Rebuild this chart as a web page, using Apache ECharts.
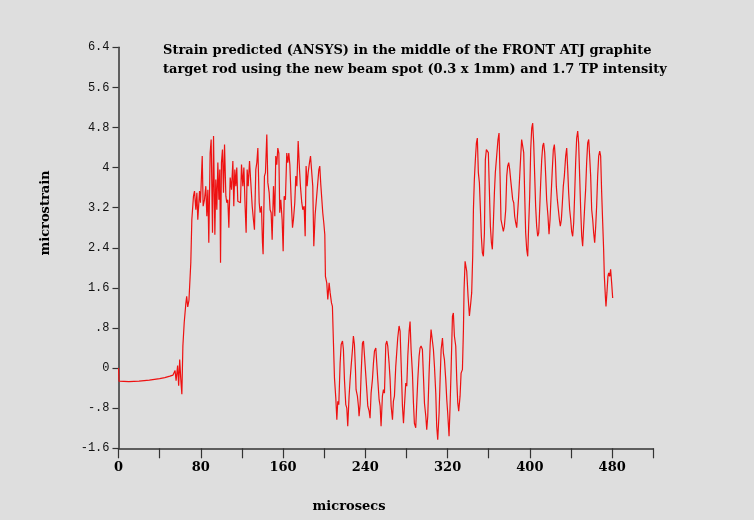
<!DOCTYPE html>
<html>
<head>
<meta charset="utf-8">
<script src="https://cdn.jsdelivr.net/npm/echarts@6/dist/echarts.min.js"></script>
<style>
html,body{margin:0;padding:0;background:#dedede;}
#chart{width:754px;height:520px;}
</style>
</head>
<body>
<div id="chart"></div>
<script>
// time (microsecs)
var times = [
0,0.5,10,20,30,40,45,50,53,55,56,57.5,58.5,59.5,60.5,61.6,62.6,63.9,65.4,66.3,67.3,68.5,70.3,71.3,
72.9,73.9,75.2,76.2,77.1,78.8,79.7,81.4,82.3,83.6,84.9,85.9,86.9,87.8,89.1,90.1,91.4,92.4,93.7,94.6,95.6,96.6,97.6,98.5,99.2,
100.1,101.1,102.1,103.1,104.4,105.3,106.3,107.3,108.6,109.9,111.2,112.1,113.1,114.1,115.0,116.0,117.3,118.6,119.6,120.9,121.9,
123.1,124.1,125.1,126.1,127.4,128.7,130.0,131.2,132.2,133.5,134.5,135.5,136.8,137.7,139.0,140.0,140.6,141.9,142.9,144.2,145.2,
146.5,147.4,148.4,149.4,150.7,152.0,152.9,153.9,154.9,155.9,156.8,157.8,159.1,160.1,161.1,162.3,163.6,164.6,165.6,166.6,167.9,
169.2,170.1,171.4,172.4,173.4,174.7,176.0,176.9,178.2,179.2,180.5,181.5,182.4,183.4,184.4,185.7,186.7,187.6,188.9,189.9,191.2,
192.5,193.5,194.8,195.7,196.7,197.7,198.6,199.6,200.6,201.2,202.5,203.5,204.8,205.8,207.1,208.0,
209.0,210.0,211.3,212.3,213.2,214.2,215.5,216.5,217.8,218.7,219.7,221.0,222.0,222.9,224.2,225.2,226.2,227.5,228.4,229.4,230.4,
231.0,232.3,233.3,233.9,234.9,235.9,237.2,238.2,239.1,240.4,241.4,242.4,243.7,244.6,245.6,246.9,247.9,248.9,250.2,251.1,252.1,
253.4,254.4,255.3,256.6,257.6,258.6,259.9,260.9,261.8,263.1,264.1,265.1,266.4,267.3,268.3,269.6,271.5,272.8,273.8,274.8,276.1,
277.1,278.0,279.3,280.3,281.3,282.6,283.5,284.5,285.8,286.8,287.7,289.0,290.0,291.0,292.3,293.2,294.2,295.5,296.5,297.5,298.8,
299.7,300.7,302.0,303.0,303.9,305.2,306.2,307.2,308.5,309.4,310.4,311.7,312.7,313.7,315.0,315.9,316.9,318.2,319.2,320.1,321.4,
322.4,323.4,324.7,325.6,326.6,327.9,328.9,329.9,330.8,332.1,333.1,334.4,335.4,336.0,
337.0,337.9,338.6,339.9,341.2,342.5,343.4,344.4,345.1,346.0,347.0,348.0,348.9,349.9,350.9,351.9,352.8,353.8,354.8,355.8,356.7,
357.7,358.7,359.6,360.6,361.6,362.6,363.5,364.5,365.5,366.4,367.7,369.0,370.0,371.0,371.9,373.2,374.2,375.2,376.5,377.5,378.4,
379.4,380.4,381.3,382.3,383.3,384.3,385.2,386.2,387.2,388.2,389.1,390.1,391.1,392.0,393.0,394.0,394.9,395.9,396.9,397.9,398.8,
399.8,400.8,401.8,402.7,403.7,404.7,405.6,406.6,407.6,408.6,409.5,410.5,411.5,412.5,413.4,414.4,415.4,416.3,417.6,418.6,419.6,
420.6,421.8,422.8,423.8,424.8,425.7,426.7,427.7,428.7,429.6,430.6,431.6,432.5,433.5,434.8,435.8,436.8,437.7,438.7,439.7,440.6,
441.6,442.6,443.6,444.5,445.5,446.5,447.4,448.4,449.4,450.4,451.3,452.3,453.3,454.2,455.2,456.2,457.2,458.1,459.1,460.1,461.1,
462.0,463.0,464.0,464.9,465.9,466.9,467.9,468.8,469.8,470.8,471.7,472.4,473.4,474.0,474.9,475.9,476.6,477.6,478.5,479.5,480.5
];
// strain (microstrain)
var strain = [
0.00,-0.26,-0.27,-0.26,-0.24,-0.21,-0.19,-0.16,-0.14,-0.05,-0.25,0.05,-0.35,0.17,-0.20,-0.52,0.44,0.91,1.27,1.43,1.22,1.35,2.10,2.96,
3.43,3.53,3.16,3.50,2.96,3.53,3.30,4.23,3.23,3.36,3.63,3.03,3.56,2.50,4.29,4.56,2.70,4.63,2.66,3.76,3.16,4.10,3.36,3.96,2.10,
4.10,4.36,3.50,4.46,3.43,3.30,3.36,2.80,3.80,3.56,4.13,3.23,3.96,3.63,4.00,3.33,3.36,3.30,4.06,3.63,4.00,
3.23,2.70,3.96,3.63,4.13,4.16,3.23,2.96,2.76,3.96,4.10,4.39,3.30,3.10,3.23,2.50,2.27,3.83,3.90,4.66,3.70,
3.50,3.16,3.10,2.56,3.63,3.03,4.23,4.06,4.39,4.29,3.10,3.36,2.96,2.33,3.43,3.36,4.29,4.10,4.29,4.06,3.36,
2.80,2.96,3.30,3.83,3.63,4.53,3.96,3.63,3.30,3.16,3.23,2.63,4.03,3.63,3.90,4.10,4.23,4.26,3.63,2.43,3.06,
3.06,3.63,3.96,4.03,3.66,3.66,3.10,2.90,2.66,1.83,1.70,1.37,1.70,1.50,1.30,1.23,
0.50,-0.20,-0.60,-1.03,-0.66,-0.73,0.10,0.47,0.54,0.37,-0.23,-0.73,-0.80,-1.16,-0.56,-0.23,0.04,0.37,0.64,0.47,-0.03,
-0.43,-0.56,-0.76,-0.96,-0.73,-0.13,0.50,0.54,0.27,0.24,-0.43,-0.76,-0.86,-1.00,-0.50,-0.23,0.10,0.34,0.40,0.10,-0.23,
-0.63,-0.76,-1.16,-0.56,-0.43,-0.50,0.47,0.54,0.44,0.10,-0.23,-0.76,-1.03,-0.66,-0.56,0.04,0.60,0.84,0.74,0.10,-0.76,
-1.10,-0.76,-0.30,-0.36,0.24,0.74,0.93,0.37,-0.10,-0.70,-1.10,-1.19,-0.70,-0.23,0.24,0.40,0.44,0.37,-0.16,-0.70,-0.96,
-1.23,-0.96,-0.10,0.44,0.77,0.80,0.37,0.04,-0.50,-1.16,-1.43,-0.90,-0.23,0.37,0.60,0.30,0.17,-0.23,-0.63,-0.90,-1.36,
-0.76,-0.03,1.03,1.10,0.64,0.44,-0.23,-0.70,-0.86,-0.56,-0.10,-0.03,0.77,1.57,
2.13,2.10,1.93,1.43,1.04,1.30,1.50,2.23,3.16,3.76,4.16,4.49,4.59,3.90,3.70,3.16,2.63,2.30,2.23,2.70,4.16,
4.36,4.39,4.30,3.56,2.83,2.50,2.37,2.90,3.50,3.90,4.23,4.56,4.69,3.83,2.96,2.83,2.73,2.83,3.16,3.83,4.03,
4.10,3.96,3.76,3.56,3.36,3.30,3.03,2.90,2.80,2.83,3.43,3.83,4.23,4.56,4.59,4.30,3.50,2.70,2.37,2.23,2.83,
3.43,4.36,4.79,4.89,4.49,3.83,3.23,2.83,2.63,2.70,3.16,3.70,4.16,4.43,4.49,4.30,3.83,3.36,3.03,2.67,2.96,
3.43,3.96,4.36,4.46,4.16,3.63,3.36,3.16,2.96,2.83,2.96,3.30,3.63,3.83,4.23,4.39,3.96,3.50,3.16,2.96,2.73,
2.63,2.90,3.50,4.10,4.59,4.73,4.49,3.83,3.16,2.63,2.43,2.83,3.23,3.56,4.10,4.49,4.56,4.23,3.83,3.16,2.96,
2.70,2.50,2.83,3.23,3.83,4.23,4.33,4.23,3.50,2.90,2.37,1.83,1.43,1.23,1.50,1.83,1.90,1.83,1.97,1.70,1.40
];
var xTickLabels = ['0','80','160','240','320','400','480'];
var yTickLabels = ['-1.6','-.8','0','.8','1.6','2.4','3.2','4','4.8','5.6','6.4'];
var titleLines = ['Strain predicted (ANSYS) in the middle of the FRONT ATJ graphite',
                  'target rod using the new beam spot (0.3 x 1mm) and 1.7 TP intensity'];
var xName = 'microsecs';
var yName = 'microstrain';

var seriesData = times.map(function(t, i){ return [t, strain[i]]; });

var chart = echarts.init(document.getElementById('chart'), null, {renderer:'canvas'});
var serifBold = {fontFamily:'DejaVu Serif', fontWeight:'bold', fontSize:13, fill:'#000'};
chart.setOption({
  backgroundColor:'#dedede',
  animation:false,
  grid:{left:118.5, right:100.7, top:47.3, bottom:71.7, containLabel:false},
  xAxis:{
    type:'value', min:0, max:520, interval:40,
    axisLine:{onZero:false, lineStyle:{color:'#333', width:1.5}},
    axisTick:{inside:false, length:10, lineStyle:{color:'#333', width:1.2}},
    splitLine:{show:false},
    axisLabel:{
      margin:13, color:'#000', fontFamily:'DejaVu Serif', fontWeight:'bold', fontSize:13,
      formatter:function(v){ return (Math.round(v)%80===0 && xTickLabels[Math.round(v)/80]) || ''; }
    }
  },
  yAxis:{
    type:'value', min:-1.6, max:6.4, interval:0.8,
    axisLine:{onZero:false, lineStyle:{color:'#333', width:1.5}},
    axisTick:{inside:false, length:6, lineStyle:{color:'#333', width:1.2}},
    splitLine:{show:false},
    axisLabel:{
      margin:9, color:'#111', fontFamily:'Liberation Mono', fontSize:12,
      formatter:function(v){ return yTickLabels[Math.round((v+1.6)/0.8)] || ''; }
    }
  },
  graphic:[
    {type:'text', left:163, top:41, style:Object.assign({text:titleLines.join('\n'), lineHeight:19}, serifBold)},
    {type:'text', x:349, y:507, style:Object.assign({text:xName, align:'center', verticalAlign:'middle'}, serifBold)},
    {type:'text', x:46, y:213, rotation:Math.PI/2, style:Object.assign({text:yName, align:'center', verticalAlign:'middle'}, serifBold)}
  ],
  series:[{
    type:'line', data:seriesData, showSymbol:false, symbol:'none',
    lineStyle:{color:'#ee1111', width:1.2}, smooth:false
  }]
});
</script>
</body>
</html>
